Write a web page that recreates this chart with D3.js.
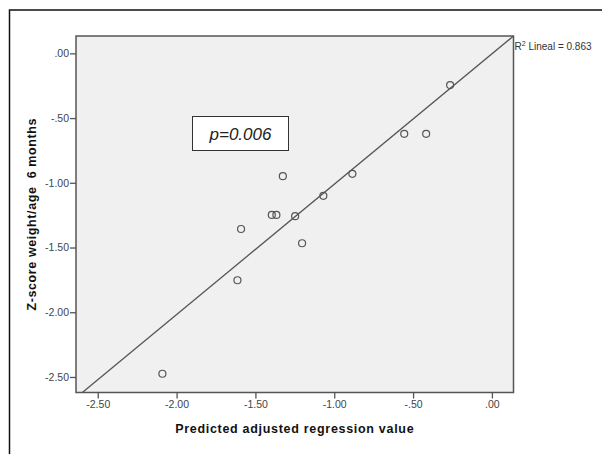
<!DOCTYPE html>
<html>
<head>
<meta charset="utf-8">
<script src="https://cdn.jsdelivr.net/npm/d3@7"></script>
<style>
  html, body { margin: 0; padding: 0; background: #fff; }
  svg { display: block; font-family: "Liberation Sans", Arial, sans-serif; }
</style>
</head>
<body>
<svg id="chart" width="602" height="454"></svg>
<script>
// ---- data ----
const predicted = [-2.09, -1.614, -1.591, -1.396, -1.367, -1.326, -1.248, -1.204, -1.069, -0.885, -0.556, -0.417, -0.265];
const zscore    = [-2.475, -1.753, -1.357, -1.248, -1.248, -0.949, -1.258, -1.467, -1.101, -0.931, -0.622, -0.622, -0.245];
const xTicks = [-2.5, -2.0, -1.5, -1.0, -0.5, 0.0];
const yTicks = [0.0, -0.5, -1.0, -1.5, -2.0, -2.5];
const xDomain = [-2.638, 0.137];
const yDomain = [-2.62, 0.134];
const fitIntercept = -0.004;
const fitSlope = 1.007;
const r2Label = "0.863";
const pLabel = "p=0.006";

// ---- layout ----
const svg = d3.select("#chart");
const plot = { left: 76, top: 36, right: 513.5, bottom: 392.5 };

const x = d3.scaleLinear().domain(xDomain).range([plot.left, plot.right]);
const y = d3.scaleLinear().domain(yDomain).range([plot.bottom, plot.top]);

const fmt = v => {
  if (v === 0) return ".00";
  const s = d3.format(".2f")(Math.abs(v)).replace(/^0/, "");
  return (v < 0 ? "-" : "") + s;
};

// outer frame
svg.append("path")
  .attr("d", "M9.5,454 L9.5,10 L602,10")
  .attr("fill", "none").attr("stroke", "#111").attr("stroke-width", 1.5);

// plot background
svg.append("rect")
  .attr("x", plot.left).attr("y", plot.top)
  .attr("width", plot.right - plot.left).attr("height", plot.bottom - plot.top)
  .attr("fill", "#f0f0f0");

// clip
svg.append("clipPath").attr("id", "clip").append("rect")
  .attr("x", plot.left).attr("y", plot.top)
  .attr("width", plot.right - plot.left).attr("height", plot.bottom - plot.top);

// fit line
const fx0 = xDomain[0], fx1 = xDomain[1];
svg.append("line")
  .attr("clip-path", "url(#clip)")
  .attr("x1", x(fx0)).attr("y1", y(fitIntercept + fitSlope * fx0))
  .attr("x2", x(fx1)).attr("y2", y(fitIntercept + fitSlope * fx1))
  .attr("stroke", "#555").attr("stroke-width", 1.3);

// points
svg.append("g").selectAll("circle")
  .data(predicted.map((p, i) => [p, zscore[i]]))
  .join("circle")
  .attr("cx", d => x(d[0])).attr("cy", d => y(d[1]))
  .attr("r", 3.5)
  .attr("fill", "none").attr("stroke", "#555").attr("stroke-width", 1.2);

// plot border
svg.append("rect")
  .attr("x", plot.left).attr("y", plot.top)
  .attr("width", plot.right - plot.left).attr("height", plot.bottom - plot.top)
  .attr("fill", "none").attr("stroke", "#555").attr("stroke-width", 1.5);

// axes
const xAxis = d3.axisBottom(x).tickValues(xTicks).tickFormat(fmt).tickSize(6).tickPadding(2);
const gx = svg.append("g").attr("transform", `translate(0,${plot.bottom})`).call(xAxis);
gx.select(".domain").remove();
gx.selectAll(".tick line").attr("stroke", "#555").attr("stroke-width", 1.3);
gx.selectAll(".tick text").attr("fill", "#444").attr("font-size", 10.5)
  .attr("font-family", "Liberation Sans, Arial, sans-serif");

const yAxis = d3.axisLeft(y).tickValues(yTicks).tickFormat(fmt).tickSize(6).tickPadding(1);
const gy = svg.append("g").attr("transform", `translate(${plot.left},0)`).call(yAxis);
gy.select(".domain").remove();
gy.selectAll(".tick line").attr("stroke", "#555").attr("stroke-width", 1.3);
gy.selectAll(".tick text").attr("fill", "#444").attr("font-size", 10.5)
  .attr("font-family", "Liberation Sans, Arial, sans-serif");

// axis titles
svg.append("text")
  .attr("x", (plot.left + plot.right) / 2).attr("y", 433)
  .attr("text-anchor", "middle").attr("font-weight", "bold").attr("font-size", 12.5)
  .attr("letter-spacing", 0.7)
  .attr("fill", "#111")
  .text("Predicted adjusted regression value");

svg.append("text")
  .attr("transform", `translate(36,${(plot.top + plot.bottom) / 2}) rotate(-90)`)
  .attr("text-anchor", "middle").attr("font-weight", "bold").attr("font-size", 12.5)
  .attr("letter-spacing", 0.6)
  .attr("fill", "#111")
  .attr("xml:space", "preserve")
  .style("white-space", "pre")
  .text("Z-score weight/age  6 months");

// R2 label
const r2 = svg.append("text")
  .attr("x", plot.right + 1).attr("y", 49.5)
  .attr("font-size", 10).attr("fill", "#333");
r2.append("tspan").text("R");
r2.append("tspan").attr("font-size", 7).attr("dy", -4).text("2");
r2.append("tspan").attr("dy", 4).text(" Lineal = " + r2Label);

// p box
svg.append("rect")
  .attr("x", 192.5).attr("y", 116.5).attr("width", 96).attr("height", 34)
  .attr("fill", "#fff").attr("stroke", "#333").attr("stroke-width", 1);
svg.append("text")
  .attr("x", 240.5).attr("y", 139.5)
  .attr("text-anchor", "middle").attr("font-style", "italic").attr("font-size", 17)
  .attr("fill", "#222")
  .text(pLabel);
</script>
</body>
</html>
